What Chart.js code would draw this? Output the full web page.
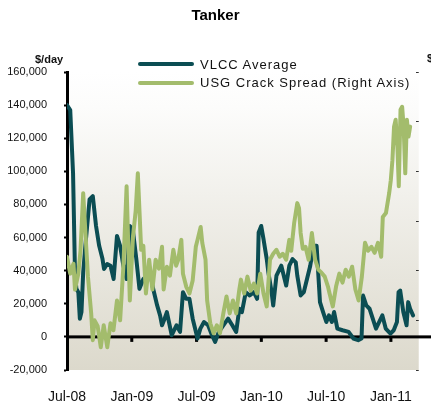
<!DOCTYPE html>
<html lang="en">
<head>
    <meta charset="UTF-8">
    <title>Tanker</title>
    <script src="https://cdn.jsdelivr.net/npm/chart.js"></script>
    <style>
        html, body { margin: 0; padding: 0; background: #fff; }
        #wrap { position: relative; width: 431px; height: 403px; overflow: hidden; font-family: "Liberation Sans", Arial, sans-serif; }
        #grafico { position: absolute; left: 0; top: 0; }
        .axisTitle { position: absolute; font-weight: bold; font-size: 11px; line-height: 14px; color: #111; }
        #legenda { position: absolute; left: 138px; top: 55px; }
        .item { height: 18.5px; display: flex; align-items: center; }
        .amostra { width: 56px; height: 4px; border-radius: 2px; }
        .texto { margin-left: 6px; font-size: 13px; letter-spacing: 1px; color: #111; white-space: nowrap; }
    </style>
    <script>
        // months since Jul-08
        var xLabels = ['Jul-08', 'Jan-09', 'Jul-09', 'Jan-10', 'Jul-10', 'Jan-11'];

        var vlccMonths = [0, 0.3, 0.56, 0.74, 0.87, 1.05, 1.19, 1.34, 1.5, 1.7,
            2.09, 2.39, 2.69, 2.98, 3.29, 3.43, 3.72, 4.03, 4.32, 4.63,
            4.92, 5.22, 5.52, 5.82, 6.09, 6.42, 6.71, 7.07, 7.43, 7.73,
            7.91, 8.35, 8.62, 8.8, 9.04, 9.25, 9.7, 10.14, 10.47, 10.74,
            11.04, 11.34, 11.64, 12.09, 12.35, 12.69, 13.07, 13.43, 13.72, 14.06,
            14.48, 14.92, 15.31, 15.67, 15.96, 16.2, 16.56, 16.92, 17.31, 17.61,
            17.75, 17.99, 18.2, 18.5, 18.65, 18.95, 19.1, 19.4, 19.85, 20.3,
            20.59, 20.89, 21.19, 21.33, 21.64, 21.93, 22.23, 22.53, 22.83, 23.12,
            23.43, 23.72, 24.02, 24.26, 24.53, 24.74, 25.04, 25.52, 26.08, 26.53,
            26.97, 27.28, 27.42, 27.72, 28.02, 28.32, 28.62, 28.92, 29.21, 29.52,
            29.96, 30.26, 30.56, 30.71, 30.86, 31.15, 31.45, 31.6, 31.78, 32.05];

        var vlccValues = [140000, 137000, 99000, 39000, 29000, 27000, 11000, 15000, 39000, 55000,
            83000, 85000, 67000, 55000, 47000, 41000, 44000, 43000, 35000, 61000,
            55000, 43000, 35000, 67000, 65000, 47000, 29000, 35000, 37000, 39000,
            31000, 19000, 13000, 7000, 11000, 15000, 1000, 7000, 3000, 27000,
            23000, 23000, 11000, -1000, 5000, 9000, 7000, 1000, -3000, 3000,
            7000, 11000, 7000, 3000, 17000, 15000, 27000, 25000, 27000, 23000,
            63000, 67000, 59000, 47000, 39000, 27000, 19000, 37000, 43000, 31000,
            43000, 47000, 45000, 37000, 25000, 27000, 35000, 43000, 55000, 55000,
            21000, 15000, 9000, 13000, 9000, 15000, 5000, 4000, 3000, -1000,
            -2000, -1000, 25000, 19000, 17000, 11000, 5000, 9000, 13000, 5000,
            2000, 4000, 9000, 27000, 28000, 15000, 7000, 21000, 17000, 13000];

        var crackMonths = [0, 0.3, 0.6, 0.74, 1.05, 1.25, 1.5, 1.64, 1.94, 2.24,
            2.39, 2.55, 2.84, 3.13, 3.4, 3.73, 4.03, 4.3, 4.63, 4.92,
            5.22, 5.52, 5.82, 6.11, 6.36, 6.56, 6.87, 7.07, 7.31, 7.61,
            7.91, 8.21, 8.51, 8.8, 8.95, 9.25, 9.53, 9.85, 10.11, 10.3,
            10.59, 10.74, 11.04, 11.34, 11.64, 11.93, 12.09, 12.38, 12.53, 12.83,
            12.98, 13.27, 13.58, 13.88, 14.17, 14.48, 14.77, 15.07, 15.37, 15.67,
            15.96, 16.11, 16.41, 16.71, 17.01, 17.31, 17.61, 17.9, 18.2, 18.5,
            18.8, 19.1, 19.4, 19.7, 19.99, 20.3, 20.59, 20.77, 21.04, 21.33,
            21.49, 21.64, 21.84, 22.09, 22.38, 22.68, 22.98, 23.28, 23.57, 23.87,
            24.17, 24.32, 24.62, 24.92, 25.22, 25.52, 25.81, 26.1, 26.41, 26.71,
            27.01, 27.31, 27.6, 27.89, 28.2, 28.49, 28.8, 29.1, 29.25, 29.54,
            29.84, 29.99, 30.14, 30.29, 30.44, 30.6, 30.73, 30.89, 31.04, 31.18,
            31.33, 31.48, 31.63, 31.78];

        var crackValues = [11.4, 9.7, 10.7, 8.1, 9.7, 12.0, 17.8, 15.1, 9.4, 5.7,
            3.0, 5.0, 4.4, 2.3, 4.5, 2.3, 4.7, 4.0, 7.0, 5.0,
            10.4, 18.5, 7.0, 13.4, 16.0, 19.8, 12.1, 12.5, 7.7, 11.1,
            8.1, 11.1, 10.2, 12.4, 8.1, 10.4, 9.5, 12.1, 10.5, 11.1,
            13.1, 9.7, 8.4, 7.7, 9.0, 12.4, 13.1, 14.4, 12.8, 11.1,
            7.0, 4.7, 3.7, 4.5, 3.7, 5.7, 7.4, 5.7, 7.0, 5.7,
            8.1, 9.1, 7.7, 9.4, 8.0, 8.7, 7.7, 9.7, 7.7, 6.4,
            11.1, 11.7, 12.1, 11.4, 11.7, 11.1, 13.1, 12.0, 14.8, 16.8,
            16.3, 13.8, 12.2, 12.4, 11.1, 13.8, 11.1, 10.1, 9.8, 9.4,
            8.4, 7.7, 6.4, 8.4, 9.7, 8.8, 10.1, 9.4, 10.4, 8.1,
            7.0, 9.4, 12.8, 12.0, 12.4, 11.8, 12.8, 11.4, 15.4, 15.8,
            17.8, 19.1, 21.1, 24.5, 25.2, 22.5, 18.5, 26.2, 26.5, 24.5,
            19.8, 25.2, 23.5, 24.5];

        var corVlcc = '#0b4d53';
        var corCrack = '#a3bc6c';
        var fonte = '"Liberation Sans", Arial, sans-serif';

        function pares(xs, ys) {
            return xs.map(function(x, i) { return { x: x, y: ys[i] }; });
        }

        // plot background gradient + small tick marks on the zero line
        var fundo = {
            id: 'fundo',
            beforeDraw: function(chart) {
                var a = chart.chartArea, ctx = chart.ctx;
                var g = ctx.createLinearGradient(0, a.top, 0, a.bottom);
                g.addColorStop(0, '#ffffff');
                g.addColorStop(0.12, '#fcfcfb');
                g.addColorStop(1, '#dcd9cc');
                ctx.save();
                ctx.fillStyle = g;
                ctx.fillRect(a.left, a.top, a.right - a.left + 3, a.bottom - a.top);
                ctx.restore();
            },
            beforeDatasetsDraw: function(chart) {
                var ctx = chart.ctx, x = chart.scales.x, y = chart.scales.y;
                var y0 = y.getPixelForValue(0);
                ctx.save();
                ctx.fillStyle = '#000';
                ctx.fillRect(x.left, y0 - 1.5, chart.width - x.left, 3);
                for (var i = 1; i < xLabels.length; i++) {
                    var px = x.getPixelForValue(i * 6);
                    ctx.fillRect(px - 1.5, y0, 3, 5);
                }
                ctx.restore();
            }
        };

        function montarGrafico() {
            var canvas = document.getElementById('grafico');
            var ctx = canvas.getContext('2d');

            var config = {
                type: 'line',
                data: {
                    datasets: [{
                        label: 'VLCC Average',
                        data: pares(vlccMonths, vlccValues),
                        borderColor: corVlcc,
                        backgroundColor: corVlcc,
                        borderWidth: 4,
                        yAxisID: 'y',
                        order: 1
                    }, {
                        label: 'USG Crack Spread (Right Axis)',
                        data: pares(crackMonths, crackValues),
                        borderColor: corCrack,
                        backgroundColor: corCrack,
                        borderWidth: 4,
                        yAxisID: 'y1',
                        order: 0
                    }]
                },
                options: {
                    responsive: false,
                    animation: false,
                    layout: { padding: 0 },
                    elements: {
                        point: { radius: 0 },
                        line: { tension: 0, borderJoinStyle: 'round', borderCapStyle: 'round' }
                    },
                    plugins: {
                        legend: { display: false },
                        tooltip: { enabled: false },
                        title: {
                            display: true,
                            text: 'Tanker',
                            color: '#000',
                            font: { family: fonte, size: 15, weight: 'bold' },
                            padding: { top: 7, bottom: 47 }
                        }
                    },
                    scales: {
                        x: {
                            type: 'linear',
                            min: 0,
                            max: 32.3,
                            border: { display: false },
                            grid: { display: false, drawTicks: false },
                            ticks: {
                                stepSize: 6,
                                includeBounds: false,
                                autoSkip: false,
                                maxRotation: 0,
                                padding: 19,
                                color: '#111',
                                font: { family: fonte, size: 14 },
                                callback: function(v) { return xLabels[Math.round(v / 6)]; }
                            },
                            afterFit: function(s) { s.height = 33; }
                        },
                        y: {
                            position: 'left',
                            min: -20000,
                            max: 160000,
                            border: { display: true, color: '#000', width: 3 },
                            grid: {
                                drawOnChartArea: false,
                                drawTicks: true,
                                tickLength: 3,
                                tickColor: '#000',
                                tickWidth: 2
                            },
                            ticks: {
                                stepSize: 20000,
                                padding: 17,
                                color: '#111',
                                font: { family: fonte, size: 11 },
                                callback: function(v) { return v.toLocaleString('en-US'); }
                            },
                            afterFit: function(s) { s.width = 67; }
                        },
                        y1: {
                            position: 'right',
                            min: 0,
                            max: 30,
                            border: { display: false },
                            grid: {
                                drawOnChartArea: false,
                                drawTicks: true,
                                tickLength: 3,
                                tickColor: '#333',
                                tickWidth: 1
                            },
                            ticks: { stepSize: 5, display: false },
                            afterFit: function(s) { s.width = 3; }
                        }
                    }
                },
                plugins: [fundo]
            };

            var grafico = new Chart(ctx, config);

            // legend stacked like the original
            var legenda = document.getElementById('legenda');
            grafico.data.datasets.forEach(function(ds) {
                var item = document.createElement('div');
                item.className = 'item';
                var amostra = document.createElement('span');
                amostra.className = 'amostra';
                amostra.style.background = ds.borderColor;
                var texto = document.createElement('span');
                texto.className = 'texto';
                texto.textContent = ds.label;
                item.appendChild(amostra);
                item.appendChild(texto);
                legenda.appendChild(item);
            });
        }

        window.onload = function() {
            montarGrafico();
        };
    </script>
</head>
<body>
    <div id="wrap">
        <canvas id="grafico" width="431" height="403"></canvas>
        <div class="axisTitle" style="left:35px; top:52px;">$/day</div>
        <div class="axisTitle" style="left:427px; top:51px;">$/bbl</div>
        <div id="legenda"></div>
    </div>
</body>
</html>
